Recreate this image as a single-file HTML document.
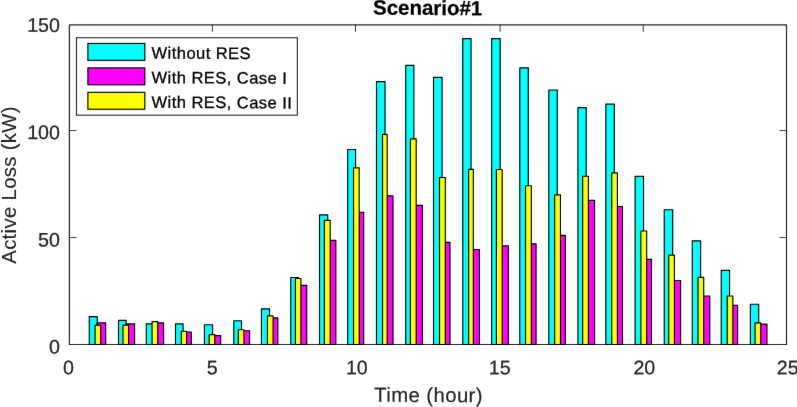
<!DOCTYPE html>
<html><head><meta charset="utf-8"><title>Scenario#1</title>
<style>html,body{margin:0;padding:0;background:#fff}body{width:797px;height:407px;overflow:hidden}</style></head>
<body>
<svg width="797" height="407" viewBox="0 0 797 407" style="display:block;font-family:'Liberation Sans',sans-serif">
<defs><filter id="soft" x="0" y="0" width="100%" height="100%" filterUnits="userSpaceOnUse" color-interpolation-filters="sRGB"><feConvolveMatrix order="3" kernelMatrix="0.00276 0.04704 0.00276 0.04704 0.80077 0.04704 0.00276 0.04704 0.00276" edgeMode="duplicate" preserveAlpha="true"/></filter></defs>
<rect width="797" height="407" fill="#fff"/>
<g filter="url(#soft)">
<rect width="797" height="407" fill="#fff"/>
<rect x="69.4" y="24.8" width="717.1" height="319.7" fill="none" stroke="#262626" stroke-width="1.2" stroke-linejoin="round"/>
<g stroke="#262626" stroke-width="0.9"><line x1="212.40" y1="344.5" x2="212.40" y2="337.5"/><line x1="212.40" y1="24.8" x2="212.40" y2="31.8"/><line x1="355.50" y1="344.5" x2="355.50" y2="337.5"/><line x1="355.50" y1="24.8" x2="355.50" y2="31.8"/><line x1="500.10" y1="344.5" x2="500.10" y2="337.5"/><line x1="500.10" y1="24.8" x2="500.10" y2="31.8"/><line x1="643.25" y1="344.5" x2="643.25" y2="337.5"/><line x1="643.25" y1="24.8" x2="643.25" y2="31.8"/><line x1="69.4" y1="237.58" x2="76.4" y2="237.58"/><line x1="786.5" y1="237.58" x2="779.5" y2="237.58"/><line x1="69.4" y1="130.58" x2="76.4" y2="130.58"/><line x1="786.5" y1="130.58" x2="779.5" y2="130.58"/></g>
<g stroke="#000" stroke-width="1.15" stroke-linejoin="round"><rect x="89.27" y="316.60" width="7.97" height="27.90" fill="#00ffff"/><rect x="118.49" y="320.40" width="7.71" height="24.10" fill="#00ffff"/><rect x="146.27" y="323.85" width="8.73" height="20.65" fill="#00ffff"/><rect x="175.49" y="323.85" width="7.61" height="20.65" fill="#00ffff"/><rect x="204.42" y="324.70" width="8.18" height="19.80" fill="#00ffff"/><rect x="233.79" y="320.70" width="7.71" height="23.80" fill="#00ffff"/><rect x="261.42" y="308.80" width="8.11" height="35.70" fill="#00ffff"/><rect x="290.79" y="277.50" width="7.81" height="67.00" fill="#00ffff"/><rect x="319.50" y="214.90" width="8.20" height="129.60" fill="#00ffff"/><rect x="347.66" y="149.50" width="7.93" height="195.00" fill="#00ffff"/><rect x="376.50" y="81.60" width="8.56" height="262.90" fill="#00ffff"/><rect x="405.72" y="65.40" width="8.16" height="279.10" fill="#00ffff"/><rect x="433.52" y="77.30" width="8.57" height="267.20" fill="#00ffff"/><rect x="462.76" y="38.60" width="8.30" height="305.90" fill="#00ffff"/><rect x="491.65" y="38.60" width="8.55" height="305.90" fill="#00ffff"/><rect x="519.80" y="67.80" width="8.50" height="276.70" fill="#00ffff"/><rect x="548.82" y="90.00" width="8.45" height="254.50" fill="#00ffff"/><rect x="577.90" y="107.60" width="8.28" height="236.90" fill="#00ffff"/><rect x="605.83" y="104.05" width="8.47" height="240.45" fill="#00ffff"/><rect x="635.11" y="176.30" width="8.44" height="168.20" fill="#00ffff"/><rect x="664.25" y="209.70" width="8.45" height="134.80" fill="#00ffff"/><rect x="692.26" y="240.80" width="8.39" height="103.70" fill="#00ffff"/><rect x="721.25" y="270.30" width="8.32" height="74.20" fill="#00ffff"/><rect x="750.39" y="304.20" width="8.33" height="40.30" fill="#00ffff"/><rect x="97.24" y="322.80" width="8.45" height="21.70" fill="#ff00ff"/><rect x="126.20" y="323.85" width="8.40" height="20.65" fill="#ff00ff"/><rect x="155.00" y="322.90" width="8.59" height="21.60" fill="#ff00ff"/><rect x="183.10" y="332.00" width="8.20" height="12.50" fill="#ff00ff"/><rect x="212.60" y="335.60" width="8.09" height="8.90" fill="#ff00ff"/><rect x="241.50" y="330.70" width="8.10" height="13.80" fill="#ff00ff"/><rect x="269.53" y="317.90" width="8.31" height="26.60" fill="#ff00ff"/><rect x="298.60" y="285.30" width="8.15" height="59.20" fill="#ff00ff"/><rect x="327.70" y="240.30" width="8.14" height="104.20" fill="#ff00ff"/><rect x="355.59" y="212.20" width="8.11" height="132.30" fill="#ff00ff"/><rect x="385.06" y="195.80" width="7.93" height="148.70" fill="#ff00ff"/><rect x="413.88" y="205.30" width="8.55" height="139.20" fill="#ff00ff"/><rect x="442.09" y="242.40" width="7.90" height="102.10" fill="#ff00ff"/><rect x="471.06" y="249.50" width="8.37" height="95.00" fill="#ff00ff"/><rect x="500.20" y="245.90" width="8.16" height="98.60" fill="#ff00ff"/><rect x="528.30" y="243.80" width="7.78" height="100.70" fill="#ff00ff"/><rect x="557.27" y="235.40" width="8.09" height="109.10" fill="#ff00ff"/><rect x="586.18" y="200.30" width="8.40" height="144.20" fill="#ff00ff"/><rect x="614.30" y="206.50" width="8.16" height="138.00" fill="#ff00ff"/><rect x="643.55" y="259.30" width="7.90" height="85.20" fill="#ff00ff"/><rect x="672.70" y="280.50" width="7.89" height="64.00" fill="#ff00ff"/><rect x="700.65" y="296.00" width="9.15" height="48.50" fill="#ff00ff"/><rect x="729.57" y="305.20" width="8.02" height="39.30" fill="#ff00ff"/><rect x="758.72" y="324.10" width="8.24" height="20.40" fill="#ff00ff"/><rect x="95.07" y="325.20" width="5.65" height="19.30" fill="#ffff00"/><rect x="123.00" y="325.15" width="5.65" height="19.35" fill="#ffff00"/><rect x="152.07" y="321.60" width="5.65" height="22.90" fill="#ffff00"/><rect x="181.29" y="331.20" width="5.41" height="13.30" fill="#ffff00"/><rect x="209.17" y="334.65" width="5.64" height="9.85" fill="#ffff00"/><rect x="238.30" y="329.70" width="5.65" height="14.80" fill="#ffff00"/><rect x="267.45" y="315.90" width="5.65" height="28.60" fill="#ffff00"/><rect x="295.40" y="278.50" width="5.53" height="66.00" fill="#ffff00"/><rect x="324.32" y="220.30" width="5.87" height="124.20" fill="#ffff00"/><rect x="353.53" y="167.80" width="5.65" height="176.70" fill="#ffff00"/><rect x="382.52" y="134.30" width="4.67" height="210.20" fill="#ffff00"/><rect x="410.38" y="138.80" width="5.80" height="205.70" fill="#ffff00"/><rect x="439.52" y="177.50" width="5.80" height="167.00" fill="#ffff00"/><rect x="468.66" y="169.30" width="4.67" height="175.20" fill="#ffff00"/><rect x="496.39" y="169.50" width="5.80" height="175.00" fill="#ffff00"/><rect x="525.53" y="185.70" width="5.80" height="158.80" fill="#ffff00"/><rect x="554.67" y="194.90" width="5.80" height="149.60" fill="#ffff00"/><rect x="582.68" y="176.20" width="5.72" height="168.30" fill="#ffff00"/><rect x="611.77" y="172.90" width="5.65" height="171.60" fill="#ffff00"/><rect x="640.90" y="231.00" width="5.80" height="113.50" fill="#ffff00"/><rect x="668.77" y="255.10" width="5.65" height="89.40" fill="#ffff00"/><rect x="698.06" y="277.40" width="5.64" height="67.10" fill="#ffff00"/><rect x="727.20" y="296.00" width="5.65" height="48.50" fill="#ffff00"/><rect x="755.06" y="322.80" width="5.72" height="21.70" fill="#ffff00"/></g>
<g font-size="19.6" fill="#262626" stroke="#262626" stroke-width="0.25"><text transform="translate(68.55,374.35) rotate(0.3)" text-anchor="middle">0</text><text transform="translate(212.20,374.35) rotate(0.3)" text-anchor="middle">5</text><text transform="translate(356.80,374.35) rotate(0.3)" text-anchor="middle">10</text><text transform="translate(499.65,374.35) rotate(0.3)" text-anchor="middle">15</text><text transform="translate(644.30,374.35) rotate(0.3)" text-anchor="middle">20</text><text transform="translate(787.70,374.35) rotate(0.3)" text-anchor="middle">25</text><text transform="translate(59.9,353.53) rotate(0.3)" text-anchor="end">0</text><text transform="translate(59.9,246.53) rotate(0.3)" text-anchor="end">50</text><text transform="translate(59.9,139.23) rotate(0.3)" text-anchor="end">100</text><text transform="translate(59.9,31.98) rotate(0.3)" text-anchor="end">150</text></g>
<text transform="translate(428.55,402.0) rotate(0.3)" font-size="20.3" fill="#262626" stroke="#262626" stroke-width="0.2" text-anchor="middle" letter-spacing="0.44">Time (hour)</text>
<text transform="translate(15.6,184.95) rotate(-90)" font-size="20.3" fill="#262626" stroke="#262626" stroke-width="0.1" text-anchor="middle" letter-spacing="0.34">Active Loss (kW)</text>
<text transform="translate(427.6,14.9) rotate(0.3)" font-size="20.5" font-weight="bold" fill="#000" stroke="#000" stroke-width="0.25" text-anchor="middle" letter-spacing="-0.03">Scenario#1</text>
<rect x="76.5" y="37.73" width="220.85" height="77.44" fill="#fff" stroke="#262626" stroke-width="1.1"/>
<rect x="87.9" y="43.46" width="56.92" height="16.91" fill="#00ffff" stroke="#000" stroke-width="1.15"/>
<text transform="translate(151.6,58.5) rotate(0.3)" font-size="16.5" fill="#000" stroke="#000" stroke-width="0.3" letter-spacing="0.45">Without RES</text>
<rect x="87.9" y="67.9" width="56.92" height="16.91" fill="#ff00ff" stroke="#000" stroke-width="1.15"/>
<text transform="translate(151.6,83.1) rotate(0.3)" font-size="16.5" fill="#000" stroke="#000" stroke-width="0.3" letter-spacing="0.45">With RES, Case I</text>
<rect x="87.9" y="92.33" width="56.92" height="16.91" fill="#ffff00" stroke="#000" stroke-width="1.15"/>
<text transform="translate(151.6,107.74) rotate(0.3)" font-size="16.5" fill="#000" stroke="#000" stroke-width="0.3" letter-spacing="0.45">With RES, Case II</text>
</g>
</svg>
</body></html>
